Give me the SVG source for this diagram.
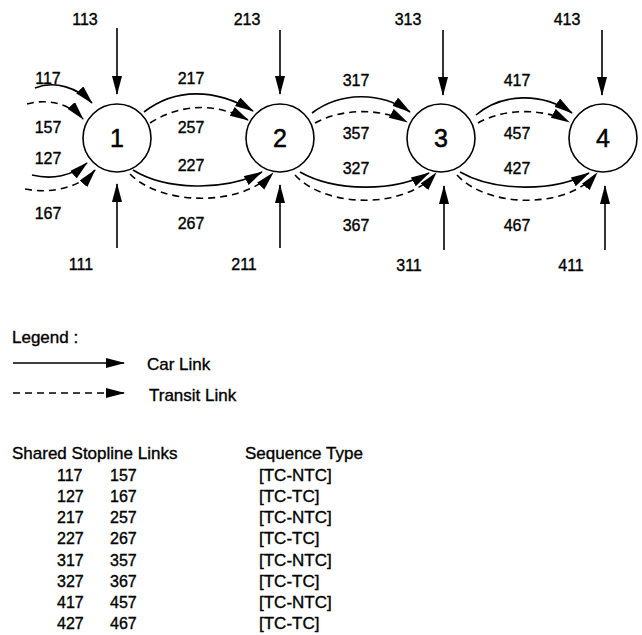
<svg xmlns="http://www.w3.org/2000/svg" width="642" height="635" viewBox="0 0 642 635">
<defs>
<marker id="ah" markerUnits="userSpaceOnUse" markerWidth="20" markerHeight="12" refX="18" refY="5" orient="auto">
<path d="M0,0 L19,5 L0,10 Z" fill="#000"/>
</marker>
<style>
.t{font-family:"Liberation Sans",Arial,Helvetica,sans-serif;font-size:16px;fill:#000;stroke:#000;stroke-width:0.35}
.c{text-anchor:middle}
.n{font-family:"Liberation Sans",Arial,Helvetica,sans-serif;font-size:25px;fill:#000;stroke:#000;stroke-width:0.5;text-anchor:middle}
.L{font-size:17px}
.s{fill:none;stroke:#000;stroke-width:1.6;marker-end:url(#ah)}
.d{stroke-dasharray:7 5}
circle{fill:#fff;stroke:#000;stroke-width:1.6}
</style>
</defs>
<rect width="642" height="635" fill="#fff"/>
<g id="connectors">
<path class="s" d="M117,28 L117,94"/>
<path class="s" d="M117,248 L117,184"/>
<path class="s" d="M280,30 L280,94"/>
<path class="s" d="M280,248 L280,185"/>
<path class="s" d="M443,30 L443,95"/>
<path class="s" d="M444,250 L444,186"/>
<path class="s" d="M602,30 L602,95"/>
<path class="s" d="M605,250 L605,186"/>
<path class="s" d="M35,88 C55,80 78,88 92,103"/>
<path class="s d" d="M27,104 C48,98 70,104 83,119"/>
<path class="s" d="M32,175 C52,180 72,176 87,163"/>
<path class="s d" d="M25,189 C50,194 80,188 95,170"/>
<path class="s" d="M144,112 C175,88 215,88 253,111"/>
<path class="s d" d="M150,123 C180,104 215,102 248,120"/>
<path class="s" d="M133,170 C165,190 225,192 262,172"/>
<path class="s d" d="M130,174 C160,205 240,208 273,173"/>
<path class="s" d="M312,113 C340,92 380,91 410,112"/>
<path class="s d" d="M315,123 C340,109 380,107 407,122"/>
<path class="s" d="M300,172 C335,192 395,192 429,173"/>
<path class="s d" d="M295,175 C325,208 405,210 436,173"/>
<path class="s" d="M476,115 C502,93 542,92 572,113"/>
<path class="s d" d="M478,123 C502,109 542,107 569,122"/>
<path class="s" d="M460,172 C495,192 555,192 589,173"/>
<path class="s d" d="M457,175 C487,208 567,210 597,173"/>
</g>
<g id="node1"><circle cx="117" cy="138" r="34"/><text class="n" x="117" y="147">1</text></g>
<g id="node2"><circle cx="280" cy="138" r="34"/><text class="n" x="280" y="147">2</text></g>
<g id="node3"><circle cx="441" cy="138" r="34"/><text class="n" x="441" y="147">3</text></g>
<g id="node4"><circle cx="603" cy="138" r="34"/><text class="n" x="603" y="147">4</text></g>
<g id="link-labels" class="t c">
<text x="85" y="25">113</text>
<text x="247" y="25">213</text>
<text x="408" y="25">313</text>
<text x="567" y="25">413</text>
<text x="81" y="270">111</text>
<text x="244" y="270">211</text>
<text x="409" y="271">311</text>
<text x="571" y="271">411</text>
<text x="48" y="84">117</text>
<text x="48" y="133">157</text>
<text x="48" y="164">127</text>
<text x="48" y="219">167</text>
<text x="191" y="84">217</text>
<text x="191" y="133">257</text>
<text x="191" y="171">227</text>
<text x="191" y="229">267</text>
<text x="356" y="86">317</text>
<text x="356" y="139">357</text>
<text x="356" y="174">327</text>
<text x="356" y="231">367</text>
<text x="517" y="86">417</text>
<text x="517" y="139">457</text>
<text x="517" y="174">427</text>
<text x="517" y="231">467</text>
</g>
<g id="legend">
<text class="t L" x="12" y="343">Legend :</text>
<path class="s" d="M13,363 L124,363"/>
<text class="t L" x="147" y="370">Car Link</text>
<path class="s d" d="M13,393 L124,393"/>
<text class="t L" x="149" y="401">Transit Link</text>
</g>
<g id="table" class="t">
<text class="L" x="12" y="459">Shared Stopline Links</text>
<text class="L" x="245" y="459">Sequence Type</text>
<text x="57" y="481">117</text><text x="110" y="481">157</text><text class="L" x="259" y="481">[TC-NTC]</text>
<text x="57" y="502">127</text><text x="110" y="502">167</text><text class="L" x="259" y="502">[TC-TC]</text>
<text x="57" y="523">217</text><text x="110" y="523">257</text><text class="L" x="259" y="523">[TC-NTC]</text>
<text x="57" y="544">227</text><text x="110" y="544">267</text><text class="L" x="259" y="544">[TC-TC]</text>
<text x="57" y="566">317</text><text x="110" y="566">357</text><text class="L" x="259" y="566">[TC-NTC]</text>
<text x="57" y="587">327</text><text x="110" y="587">367</text><text class="L" x="259" y="587">[TC-TC]</text>
<text x="57" y="608">417</text><text x="110" y="608">457</text><text class="L" x="259" y="608">[TC-NTC]</text>
<text x="57" y="629">427</text><text x="110" y="629">467</text><text class="L" x="259" y="629">[TC-TC]</text>
</g>
</svg>
